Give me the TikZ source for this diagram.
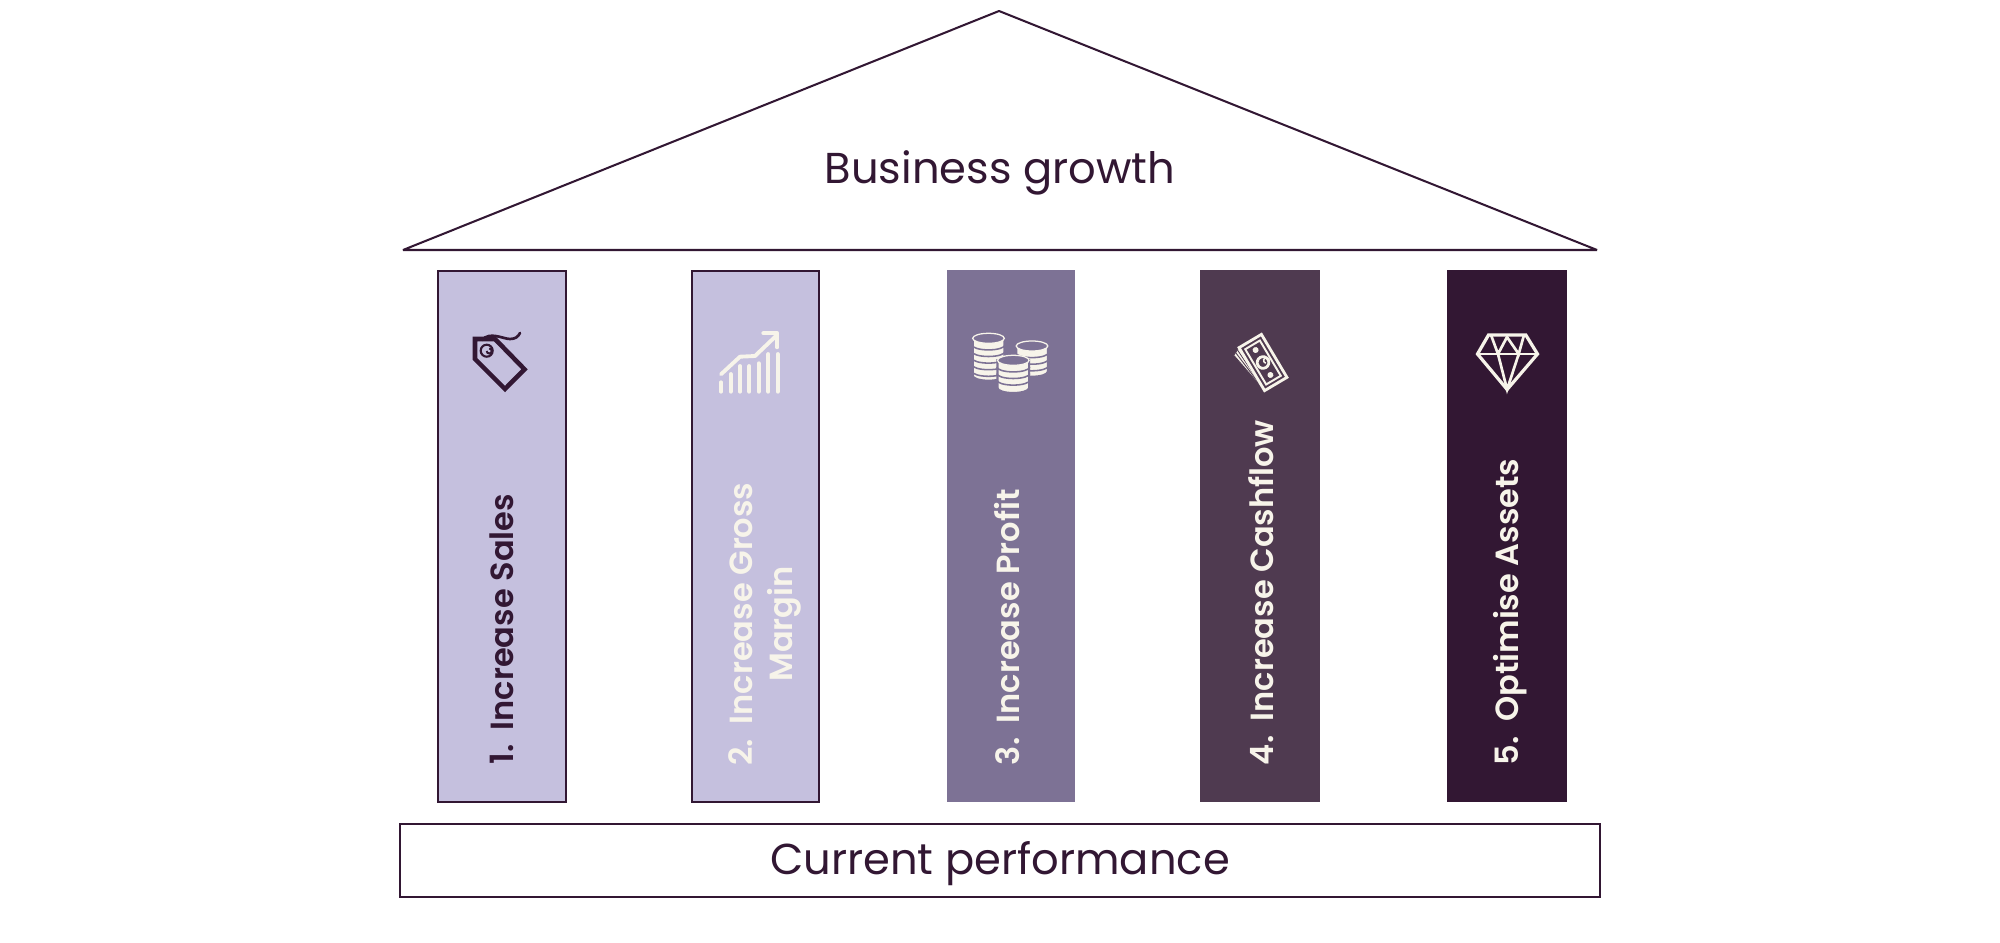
\documentclass[tikz,border=0pt]{standalone}
\usepackage{fontspec}
\setmainfont{Poppins}
\newfontfamily\medfont{Poppins}[UprightFont={* SemiBold}]
\usetikzlibrary{calc,positioning}
\definecolor{plum}{HTML}{321733}
\definecolor{lilac}{HTML}{C5C0DE}
\definecolor{mauve}{HTML}{7D7295}
\definecolor{wine}{HTML}{4F3A50}
\definecolor{cream}{HTML}{F7F4EA}

\newcommand{\coinstack}[4]{
  \fill[cream, draw=mauve, line width=3pt] (#1-15.8,#2) -- (#1-15.8,#4) arc[start angle=180,end angle=0,x radius=15.8,y radius=5] -- (#1+15.8,#2) -- cycle;
  \foreach \c in {1,...,#3} {
    \draw[mauve,line width=2.2pt] (#1-16.5,#2+\c*6.6) arc[start angle=180,end angle=0,x radius=16.5,y radius=5];
  }
  \draw[cream,line width=1.8pt,fill=mauve] (#1,#2) ellipse [x radius=15.8,y radius=5];
}

\begin{document}
\begin{tikzpicture}[x=0.5mm,y=-0.5mm,
  pillar/.style={rectangle, minimum height=266mm, minimum width=64mm, inner sep=0pt, outer sep=0pt},
  lined/.style={draw=plum, line width=2.9pt, minimum width=63.6mm, minimum height=265.4mm},
  lbl/.style={inner sep=0pt, rotate=90, font=\medfont\fontsize{45.6}{57}\selectfont},
  bigtext/.style={inner sep=0pt, text=plum, font=\fontsize{61.5}{72}\selectfont},
  icon/.style={cream, line width=5.5pt, line cap=round, line join=round}]

\useasboundingbox (0,0) rectangle (2000,943);

%Roof and base
\coordinate (apex) at (999,11);
\coordinate (eaveL) at (403,250);
\coordinate (eaveR) at (1597,250);
\draw[plum, line width=2.9pt, line join=bevel] (apex) -- (eaveR) -- (eaveL) -- cycle;
\node[bigtext] (growth) at (1000,173) {Business growth};
\node[rectangle, draw=plum, line width=2.9pt, inner sep=0pt, outer sep=0pt, minimum width=600mm, minimum height=36.8mm] (base) at (1000,860.5) {};
\node[bigtext] (perf) at (1000,864) {Current performance};

%Pillars
\node[pillar, lined, fill=lilac]  (sales)                        at (502,536.3) {};
\node[pillar, lined, fill=lilac]  (margin)  [right=63.15mm of sales]  {};
\node[pillar, fill=mauve]         (profit)  [right=63.8mm of margin]   {};
\node[pillar, fill=wine, minimum width=60mm]  (cash)    [right=62.8mm of profit]  {};
\node[pillar, fill=plum, minimum width=60mm]  (assets)  [right=63.35mm of cash]    {};

%Labels
\node[lbl, anchor=west, text=plum]  (salesT)  at ($(sales.south)+(0,-37)$)  {1.\hspace{0.45em}Increase Sales};
\node[lbl, anchor=center, text=cream, align=center] (marginT) at (765,624) {2.\hspace{0.45em}Increase Gross\\Margin};
\node[lbl, anchor=west, text=cream] (profitT) at ($(profit.south)+(-3.5,-37)$) {3.\hspace{0.45em}Increase Profit};
\node[lbl, anchor=west, text=cream] (cashT)   at ($(cash.south)+(1,-37)$)   {4.\hspace{0.45em}Increase Cashflow};
\node[lbl, anchor=west, text=cream] (assetsT) at ($(assets.south)+(3,-37)$) {5.\hspace{0.45em}Optimise Assets};

%Tag
\draw[plum, line width=6.5pt, line join=miter] (475,339) -- (495,339) -- (524.5,369.3) -- (505,389) -- (475,359) -- cycle;
\draw[plum, line width=3pt] (486.7,350.7) circle (6);
\draw[plum, line width=2.8pt] (486.7,351) arc[start angle=180,end angle=-90,radius=2.5];
\draw[plum, line width=3.8pt, line cap=round] (482,340) .. controls (490,331) and (503,339) .. (510,339) .. controls (515,339) and (518,337) .. (520,333);

%Chart
\foreach \x/\t in {721/382.3,730.7/374,740/366,749.3/366,758.7/363.3,768.3/354,777.7/354} {
  \draw[icon] (\x,\t) -- (\x,391.7);
}
\draw[icon] (721,374.3) -- (740,356.7) -- (755,356) -- (777,335);
\draw[icon] (763.3,333.3) -- (777.3,333.3) -- (777.3,347.3);

%Coins
\coinstack{988.5}{338.3}{5}{375.7}
\coinstack{1032}{346}{4}{371.7}
\coinstack{1013.3}{360.3}{3}{388}

%Banknotes
\begin{scope}[shift={(1263,362.5)}, rotate=-59.3]
  \foreach \d in {8.5,5.5,2.5} {
    \fill[cream, draw=wine, line width=1.2pt] (-25,13) -- (-25+0.45*\d,13+\d) -- (25,13) -- cycle;
  }
  \draw[cream, fill=wine, line width=4pt, line join=miter] (-25,-13) rectangle (25,13);
  \draw[cream, line width=2.8pt] (-20.5,-8.5) rectangle (20.5,8.5);
  \draw[cream, line width=4pt] (0,0) circle (5.8);
  \draw[cream, line width=2.2pt] (2,-2) arc[start angle=45,end angle=315,radius=2.8];
  \fill[cream] (-14.5,0) circle (3) (14.5,0) circle (3);
\end{scope}

%Gem
\draw[cream, line width=4.6pt, line join=miter] (1488.5,335) -- (1525.8,335) -- (1537.5,354) -- (1507.1,389.5) -- (1477.5,354) -- cycle;
\draw[cream, line width=3.8pt] (1477.5,354) -- (1537.5,354);
\draw[cream, line width=3.8pt] (1491,335) -- (1498,354) -- (1507,337) -- (1518.7,354) -- (1524,335);
\draw[cream, line width=3.8pt] (1498,354) -- (1507.1,389.5) -- (1518.7,354);

\end{tikzpicture}
\end{document}
